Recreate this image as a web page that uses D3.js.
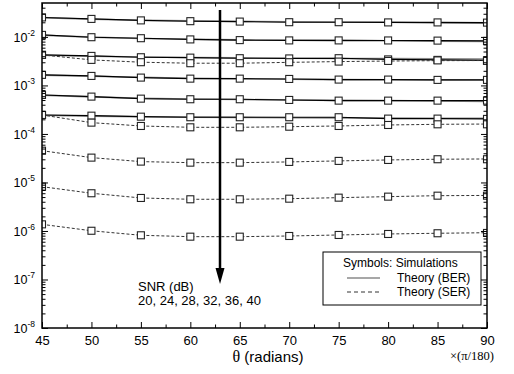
<!DOCTYPE html>
<html><head><meta charset="utf-8">
<script src="https://cdn.jsdelivr.net/npm/d3@7/dist/d3.min.js"></script>
<style>body{margin:0;background:#fff}</style>
</head><body>
<svg id="c" width="514" height="374"></svg>
<script>
// ---------- data ----------
const angles = [45, 50, 55, 60, 65, 70, 75, 80, 85, 90];
const xTicks = [45, 50, 55, 60, 65, 70, 75, 80, 85, 90];
const xMinorTicks = [47.5, 52.5, 57.5, 62.5, 67.5, 72.5, 77.5, 82.5, 87.5];
const yTickExps = [-8, -7, -6, -5, -4, -3, -2];
const snrText = "20, 24, 28, 32, 36, 40";

// BER rows (simulation symbols joined by black line, theory in grey)
const berSim1 = [0.0252, 0.0235, 0.0219, 0.0211, 0.0207, 0.0201, 0.0201, 0.0199, 0.0199, 0.0197];
const berSim2 = [0.0110, 0.00986, 0.00940, 0.00888, 0.00859, 0.00847, 0.00847, 0.00845, 0.00839, 0.00827];
const berSim3 = [0.00426, 0.00406, 0.00381, 0.00374, 0.00364, 0.00360, 0.00364, 0.00344, 0.00336, 0.00328];
const berSim4 = [0.00165, 0.00157, 0.00145, 0.00138, 0.00138, 0.00136, 0.00132, 0.00132, 0.00130, 0.00130];
const berSim5 = [0.000637, 0.000588, 0.000534, 0.000519, 0.000519, 0.000502, 0.000486, 0.000486, 0.000486, 0.000486];
const berSim6 = [0.000246, 0.000238, 0.000227, 0.000221, 0.000221, 0.000221, 0.000221, 0.000207, 0.000207, 0.000204];

const berTheory1 = [0.0250, 0.0232, 0.0221, 0.0214, 0.0209, 0.0205, 0.0202, 0.0200, 0.0194, 0.0192];
const berTheory2 = [0.0108, 0.00990, 0.00930, 0.00895, 0.00870, 0.00855, 0.00840, 0.00832, 0.00820, 0.00810];
const berTheory3 = [0.00420, 0.00400, 0.00386, 0.00377, 0.00370, 0.00365, 0.00360, 0.00356, 0.00352, 0.00350];
const berTheory4 = [0.00163, 0.00155, 0.00147, 0.00141, 0.00137, 0.00134, 0.00132, 0.00131, 0.00130, 0.00129];
const berTheory5 = [0.000630, 0.000580, 0.000545, 0.000525, 0.000512, 0.000500, 0.000493, 0.000488, 0.000478, 0.000470];
const berTheory6 = [0.000243, 0.000233, 0.000226, 0.000222, 0.000219, 0.000216, 0.000214, 0.000212, 0.000211, 0.000210];

// SER rows (dashed theory, symbols = simulation)
const serSim1 = [0.00426, 0.00336, 0.00301, 0.00287, 0.00287, 0.00301, 0.00310, 0.00320, 0.00328, 0.00320];
const serSim2 = [0.000246, 0.000171, 0.000146, 0.000137, 0.000137, 0.000141, 0.000146, 0.000153, 0.000158, 0.000158];
const serSim3 = [4.52e-5, 3.25e-5, 2.69e-5, 2.56e-5, 2.56e-5, 2.65e-5, 2.78e-5, 2.91e-5, 3.01e-5, 3.01e-5];
const serSim4 = [8.19e-6, 5.99e-6, 4.79e-6, 4.50e-6, 4.50e-6, 4.63e-6, 4.86e-6, 5.10e-6, 5.34e-6, 5.34e-6];
const serSim5 = [1.37e-6, 1.01e-6, 8.15e-7, 7.63e-7, 7.63e-7, 7.88e-7, 8.27e-7, 8.67e-7, 8.97e-7, 9.10e-7];

const serTheory1 = [0.00426, 0.00336, 0.00301, 0.00287, 0.00287, 0.00299, 0.00310, 0.00318, 0.00324, 0.00326];
const serTheory2 = [0.000246, 0.000171, 0.000146, 0.000137, 0.000137, 0.000141, 0.000146, 0.000153, 0.000158, 0.000160];
const serTheory3 = [4.52e-5, 3.25e-5, 2.69e-5, 2.56e-5, 2.56e-5, 2.65e-5, 2.78e-5, 2.91e-5, 3.01e-5, 3.05e-5];
const serTheory4 = [8.19e-6, 5.99e-6, 4.79e-6, 4.50e-6, 4.50e-6, 4.63e-6, 4.86e-6, 5.10e-6, 5.34e-6, 5.40e-6];
const serTheory5 = [1.37e-6, 1.01e-6, 8.15e-7, 7.63e-7, 7.63e-7, 7.88e-7, 8.27e-7, 8.67e-7, 8.97e-7, 9.20e-7];

const berSims = [berSim1, berSim2, berSim3, berSim4, berSim5, berSim6];
const berTheories = [berTheory1, berTheory2, berTheory3, berTheory4, berTheory5, berTheory6];
const serSims = [serSim1, serSim2, serSim3, serSim4, serSim5];
const serTheories = [serTheory1, serTheory2, serTheory3, serTheory4, serTheory5];

// ---------- drawing ----------
const L = 42, R = 487, T = 3, B = 328;
const FONT = "Arial, 'Liberation Sans', Helvetica, sans-serif";
const SERIF = "'Liberation Serif', 'DejaVu Serif', serif";
const svg = d3.select("#c");

const x = d3.scaleLinear().domain([45, 90]).range([L, R]);
const y = d3.scaleLog().domain([1e-8, 0.05]).range([B, T]);

svg.append("defs").append("clipPath").attr("id", "clip")
  .append("rect").attr("x", L).attr("y", T).attr("width", R - L).attr("height", B - T);

const plot = svg.append("g").attr("clip-path", "url(#clip)");
const line = d3.line().x((d, i) => x(angles[i])).y(d => y(d));

// grey theory BER
plot.selectAll(".bt").data(berTheories).join("path")
  .attr("d", line).attr("fill", "none").attr("stroke", "#8a8a8a").attr("stroke-width", 1.6);
// black simulation BER line
plot.selectAll(".bs").data(berSims).join("path")
  .attr("d", line).attr("fill", "none").attr("stroke", "#000").attr("stroke-width", 1.1);
// dashed SER theory
plot.selectAll(".st").data(serTheories).join("path")
  .attr("d", line).attr("fill", "none").attr("stroke", "#333").attr("stroke-width", 1)
  .attr("stroke-dasharray", "3,2");

// markers
const ms = 7;
const allSims = berSims.concat(serSims);
allSims.forEach(series => {
  plot.append("g").selectAll("rect").data(series).join("rect")
    .attr("x", (d, i) => x(angles[i]) - ms / 2)
    .attr("y", d => y(d) - ms / 2)
    .attr("width", ms).attr("height", ms)
    .attr("fill", "#fff").attr("stroke", "#222").attr("stroke-width", 1.1);
});

// arrow
const arrowX = 63, arrowTop = 0.036, arrowBase = 1.73e-7, arrowTip = 8.1e-8;
svg.append("line").attr("x1", x(arrowX)).attr("x2", x(arrowX))
  .attr("y1", y(arrowTop)).attr("y2", y(arrowBase))
  .attr("stroke", "#000").attr("stroke-width", 2.5);
svg.append("path")
  .attr("d", `M${x(arrowX) - 4.5},${y(arrowBase)} L${x(arrowX) + 4.5},${y(arrowBase)} L${x(arrowX)},${y(arrowTip)} Z`)
  .attr("fill", "#000");

svg.append("text").attr("x", 138).attr("y", 291).attr("font-family", FONT).attr("font-size", 13)
  .text("SNR (dB)");
svg.append("text").attr("x", 138).attr("y", 305).attr("font-family", FONT).attr("font-size", 13)
  .text(snrText);

// axes
const majorY = yTickExps.map(e => Math.pow(10, e));
const minorY = [];
yTickExps.forEach(e => { for (let k = 2; k <= 9; k++) { const v = k * Math.pow(10, e); if (v < 0.05) minorY.push(v); } });

function styleAxis(g) {
  g.select(".domain").remove();
  g.selectAll(".tick line").attr("stroke", "#000").attr("stroke-width", 1);
}
svg.append("g").attr("transform", `translate(0,${B})`)
  .call(d3.axisBottom(x).tickValues(xTicks).tickSize(-6).tickPadding(8).tickFormat(d3.format("d")))
  .call(styleAxis)
  .call(g => g.selectAll("text").attr("font-family", FONT).attr("font-size", 13).attr("fill", "#000"));
svg.append("g").attr("transform", `translate(0,${B})`)
  .call(d3.axisBottom(x).tickValues(xMinorTicks).tickSize(-3.5).tickFormat("")).call(styleAxis);
svg.append("g").attr("transform", `translate(0,${T})`)
  .call(d3.axisTop(x).tickValues(xTicks).tickSize(-6).tickFormat("")).call(styleAxis);
svg.append("g").attr("transform", `translate(0,${T})`)
  .call(d3.axisTop(x).tickValues(xMinorTicks).tickSize(-3.5).tickFormat("")).call(styleAxis);
svg.append("g").attr("transform", `translate(${L},0)`)
  .call(d3.axisLeft(y).tickValues(majorY).tickSize(-6).tickFormat("")).call(styleAxis);
svg.append("g").attr("transform", `translate(${L},0)`)
  .call(d3.axisLeft(y).tickValues(minorY).tickSize(-3.5).tickFormat("")).call(styleAxis);
svg.append("g").attr("transform", `translate(${R},0)`)
  .call(d3.axisRight(y).tickValues(majorY).tickSize(-6).tickFormat("")).call(styleAxis);
svg.append("g").attr("transform", `translate(${R},0)`)
  .call(d3.axisRight(y).tickValues(minorY).tickSize(-3.5).tickFormat("")).call(styleAxis);

// y labels 10^n
yTickExps.forEach(e => {
  const t = svg.append("text").attr("x", 35).attr("y", y(Math.pow(10, e)) + 5)
    .attr("text-anchor", "end").attr("font-family", FONT).attr("font-size", 12.5).attr("fill", "#000");
  t.append("tspan").text("10");
  t.append("tspan").attr("dy", -6).attr("font-size", 8.5).text("-" + Math.abs(e));
});

// frame
svg.append("rect").attr("x", L).attr("y", T).attr("width", R - L).attr("height", B - T)
  .attr("fill", "none").attr("stroke", "#000").attr("stroke-width", 1.5);

// axis title
const xt = svg.append("text").attr("x", 268).attr("y", 362).attr("text-anchor", "middle")
  .attr("font-family", FONT).attr("font-size", 15);
xt.append("tspan").attr("font-family", SERIF).attr("font-size", 16).text("θ");
xt.append("tspan").text(" (radians)");
svg.append("text").attr("x", 450).attr("y", 360).attr("font-family", SERIF).attr("font-size", 12.5)
  .text("×(π/180)");

// legend
const lg = svg.append("g");
lg.append("rect").attr("x", 323).attr("y", 252).attr("width", 158).attr("height", 53)
  .attr("fill", "#fff").attr("stroke", "#000").attr("stroke-width", 1);
lg.append("text").attr("x", 343).attr("y", 267).attr("font-family", FONT).attr("font-size", 12).text("Symbols: Simulations");
lg.append("line").attr("x1", 347).attr("x2", 380).attr("y1", 278).attr("y2", 278)
  .attr("stroke", "#8a8a8a").attr("stroke-width", 1.6);
lg.append("text").attr("x", 397).attr("y", 282).attr("font-family", FONT).attr("font-size", 12).text("Theory (BER)");
lg.append("line").attr("x1", 347).attr("x2", 382).attr("y1", 292).attr("y2", 292)
  .attr("stroke", "#333").attr("stroke-width", 1).attr("stroke-dasharray", "4,3");
lg.append("text").attr("x", 397).attr("y", 296).attr("font-family", FONT).attr("font-size", 12).text("Theory (SER)");
</script>
</body></html>
